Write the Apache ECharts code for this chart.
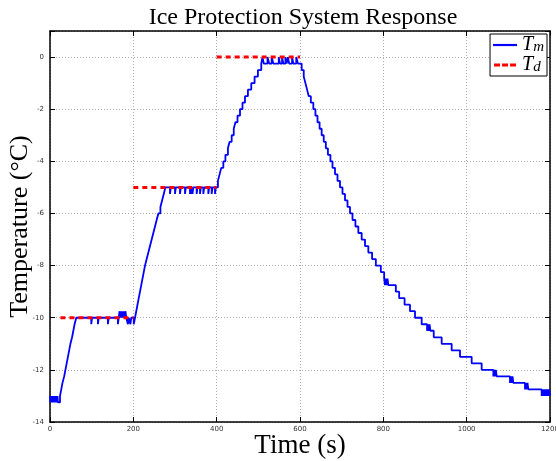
<!DOCTYPE html>
<html>
<head>
<meta charset="utf-8">
<script src="https://cdn.jsdelivr.net/npm/echarts@6/dist/echarts.min.js"></script>
<style>html,body{margin:0;padding:0;background:#fff;}#c{width:556px;height:461px;}</style>
</head>
<body>
<div id="c"></div>
<script>
// ---- data (time in s, temperature in °C) ----
const xTicks = [0, 200, 400, 600, 800, 1000, 1200];
const yTicks = [-14, -12, -10, -8, -6, -4, -2, 0];

const tmHold13 = [[0,-13],[1,-13.25],[2,-13],[3,-13.25],[4,-13],[5,-13.25],[6,-13],[7,-13.25],[8,-13],[9,-13.25],[10,-13],[11,-13.25],[12,-13],[13,-13.25],[14,-13],[15,-13.25],[16,-13],[17,-13.25],[18,-13],[19,-13.25]];
const tmRise1 = [[24,-13],[27,-12.75],[30,-12.5],[34,-12.25],[37,-12],[40,-11.75],[43,-11.5],[46,-11.25],[49,-11],[53,-10.75],[56,-10.5],[59,-10.25],[63,-10]];
const tmHold10 = [[99,-10.25],[101,-10],[115,-10.25],[117,-10],[139,-10.25],[141,-10],[163,-10.25],[165,-10],[167,-9.75],[168,-10],[169,-9.75],[170,-10],[171,-9.75],[172,-10],[173,-9.75],[174,-10],[175,-9.75],[176,-10],[177,-9.75],[178,-10],[179,-9.75],[180,-10],[181,-9.75],[183,-10],[187,-10.25],[189,-10],[193,-10.25],[195,-10],[201,-10.25],[204,-10]];
const tmRise2 = [[207,-9.75],[210,-9.5],[213,-9.25],[216,-9],[219,-8.75],[222,-8.5],[225,-8.25],[228,-8],[232,-7.75],[236,-7.5],[240,-7.25],[244,-7],[248,-6.75],[252,-6.5],[256,-6.25],[260,-6],[265,-5.75],[269,-5.5],[273,-5.25],[277,-5]];
const tmHold5 = [[288,-5.25],[290,-5],[300,-5.25],[302,-5],[312,-5.25],[314,-5],[324,-5.25],[326,-5],[336,-5.25],[338,-5],[339,-5.25],[341,-5],[342,-5.25],[344,-5],[352,-5.25],[354,-5],[360,-5.25],[362,-5],[368,-5.25],[370,-5],[380,-5.25],[382,-5],[388,-5.25],[390,-5],[396,-5.25],[398,-5]];
const tmRise3 = [[403,-4.75],[407,-4.5],[411,-4.25],[416,-4],[421,-3.75],[427,-3.5],[431,-3.25],[436,-3],[441,-2.75],[445,-2.5],[450,-2.25],[456,-2],[462,-1.75],[468,-1.5],[475,-1.25],[483,-1],[491,-0.75],[499,-0.5],[507,-0.25]];
const tmHold0 = [[510,0],[513,-0.25],[522,0],[526,-0.25],[532,0],[536,-0.25],[549,0],[552,-0.25],[557,0],[560,-0.25],[565,0],[568,-0.25],[571,0],[574,-0.25],[581,0],[584,-0.25],[591,0],[595,-0.25]];
const tmFall = [[604,-0.5],[609,-0.75],[613,-1],[617,-1.25],[621,-1.5],[626,-1.75],[632,-2],[637,-2.25],[642,-2.5],[647,-2.75],[652,-3],[657,-3.25],[662,-3.5],[667,-3.75],[673,-4],[678,-4.25],[684,-4.5],[690,-4.75],[696,-5],[702,-5.25],[708,-5.5],[714,-5.75],[720,-6],[726,-6.25],[733,-6.5],[740,-6.75],[748,-7],[756,-7.25],[764,-7.5],[773,-7.75],[782,-8],[794,-8.25],[802,-8.5],[804,-8.75],[806,-8.5],[808,-8.75],[810,-8.5],[812,-8.75],[830,-9],[838,-9.25],[851,-9.5],[864,-9.75],[876,-10],[892,-10.25],[905,-10.5],[907,-10.25],[909,-10.5],[911,-10.25],[913,-10.5],[921,-10.75],[940,-11],[964,-11.25],[984,-11.5],[1012,-11.75],[1036,-12],[1064,-12.25],[1066,-12],[1068,-12.25],[1070,-12],[1072,-12.25],[1104,-12.5],[1106,-12.25],[1108,-12.5],[1110,-12.25],[1112,-12.5],[1140,-12.75],[1142,-12.5],[1144,-12.75],[1146,-12.5],[1148,-12.75],[1180,-13],[1182,-12.75],[1184,-13],[1186,-12.75],[1188,-13],[1190,-12.75],[1192,-13],[1194,-12.75],[1196,-13],[1198,-12.75],[1200,-13]];

const tdData = [[25,-10],[200,-10],[200,'-'],[200,-5],[400,-5],[400,'-'],[400,0],[600,0]];

const tmData = [].concat(tmHold13, tmRise1, tmHold10, tmRise2, tmHold5, tmRise3, tmHold0, tmFall);

// ---- chart ----
const chart = echarts.init(document.getElementById('c'), null, {renderer: 'canvas'});
const serif = 'Liberation Serif';
const xMin = xTicks[0], xMax = xTicks[xTicks.length-1], xInt = xTicks[1]-xTicks[0];
const yMin = yTicks[0], yInt = yTicks[1]-yTicks[0];
const tickLbl = {fontSize: 7, color: '#333', fontFamily: 'DejaVu Sans'};
const axLine = {show: true, onZero: false, lineStyle: {color: '#000', width: 1.5}};
const tick = {show: true, inside: true, length: 5, lineStyle: {color: '#000', width: 1}};

chart.setOption({
  animation: false,
  backgroundColor: '#fff',
  title: {
    text: 'Ice Protection System Response',
    left: 298, top: 1, textAlign: 'center',
    textStyle: {fontFamily: serif, fontSize: 24, fontWeight: 'normal', color: '#000'}
  },
  grid: {left: 50, right: 6, top: 31, bottom: 39, containLabel: false, outerBoundsMode: 'none'},
  legend: {
    data: [
      {name: 'Tm', icon: 'path://M0,0h22v2h-22z'},
      {name: 'Td', icon: 'path://M0,0h6v3h-6z M8,0h6v3h-6z M16,0h6v3h-6z'}
    ],
    orient: 'vertical', right: 9, top: 34,
    backgroundColor: '#fff', borderColor: '#000', borderWidth: 1,
    padding: [1, 3, 1, 3], itemGap: 0, itemWidth: 24, itemHeight: 3, itemTextGap: 1,
    formatter: n => n === 'Tm' ? '{t|T}{s|m}' : '{t|T}{s|d}',
    textStyle: {
      rich: {
        t: {fontFamily: serif, fontStyle: 'italic', fontSize: 20, color: '#000', lineHeight: 20},
        s: {fontFamily: serif, fontStyle: 'italic', fontSize: 15, color: '#000', verticalAlign: 'bottom', lineHeight: 10}
      }
    }
  },
  xAxis: [{
    type: 'value', min: xMin, max: xMax, interval: xInt, position: 'bottom',
    name: 'Time (s)', nameLocation: 'middle', nameGap: 10, nameMoveOverlap: false,
    nameTextStyle: {fontFamily: serif, fontSize: 27, color: '#000', verticalAlign: 'top'},
    axisLine: axLine, axisTick: tick,
    axisLabel: Object.assign({margin: 4, formatter: v => String(v)}, tickLbl),
    splitLine: {show: true, lineStyle: {color: '#aaa', type: [1, 2], width: 1}}
  }, {
    type: 'value', min: xMin, max: xMax, interval: xInt, position: 'top',
    axisLine: axLine, axisTick: tick, axisLabel: {show: false}, splitLine: {show: false}
  }],
  yAxis: [{
    type: 'value', min: yMin, max: 1, interval: yInt, position: 'left',
    name: 'Temperature (°C)', nameLocation: 'middle', nameGap: 17, nameRotate: 90, nameMoveOverlap: false,
    nameTextStyle: {fontFamily: serif, fontSize: 26, color: '#000'},
    axisLine: axLine, axisTick: tick,
    axisLabel: Object.assign({margin: 6, formatter: v => v > 0 ? '' : String(v)}, tickLbl),
    splitLine: {show: true, lineStyle: {color: '#aaa', type: [1, 2], width: 1}}
  }, {
    type: 'value', min: yMin, max: 1, interval: yInt, position: 'right',
    axisLine: axLine, axisTick: tick, axisLabel: {show: false}, splitLine: {show: false}
  }],
  series: [{
    name: 'Tm', type: 'line', step: 'end', data: tmData,
    xAxisIndex: 0, yAxisIndex: 0,
    symbol: 'none', showSymbol: false,
    lineStyle: {color: '#0000ff', width: 1.8},
    itemStyle: {color: '#0000ff'}, z: 2
  }, {
    name: 'Td', type: 'line', data: tdData,
    xAxisIndex: 0, yAxisIndex: 0,
    symbol: 'none', showSymbol: false, connectNulls: false,
    lineStyle: {color: '#ff0000', width: 3, type: [5, 4]},
    itemStyle: {color: '#ff0000'}, z: 3
  }]
});
</script>
</body>
</html>
